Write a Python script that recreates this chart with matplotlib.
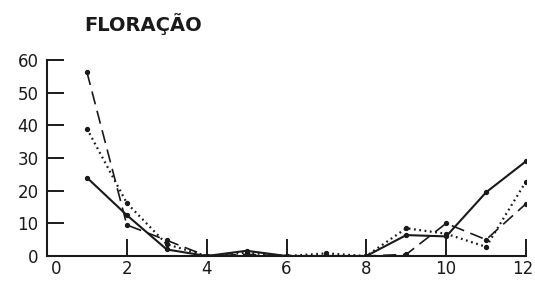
import matplotlib.pyplot as plt
from matplotlib.transforms import ScaledTranslation

# meses 1..12
meses = [1, 2, 3, 4, 5, 6, 7, 8, 9, 10, 11, 12]
serie_continua = [24, 12.5, 2, 0, 1.6, 0, 0, 0, 6.4, 6, 19.5, 29]
serie_tracejada = [56.3, 9.5, 4.8, 0, 0.5, 0, 0, 0, 0.5, 10, 5, 16]
serie_pontilhada = [39, 16.2, 3.6, 0, 1, 0, 0.8, 0, 8.5, 6.8, 2.8, 22.8]

xticks = [0, 2, 4, 6, 8, 10, 12]
yticks = [0, 10, 20, 30, 40, 50, 60]

fig = plt.figure(figsize=(5.35, 2.82), dpi=100)
ax = fig.add_axes([47 / 535, 26 / 282, 479 / 535, 196 / 282])

ax.plot(meses, serie_continua, color="#1a1a1a", lw=1.5, ls="-",
        marker="o", ms=2.8)
ax.plot(meses, serie_tracejada, color="#1a1a1a", lw=1.2, ls=(0, (8, 4)),
        marker="o", ms=2.8)
ax.plot(meses, serie_pontilhada, color="#1a1a1a", lw=1.6, ls=(0, (0.8, 1.6)),
        marker="o", ms=2.8)

ax.set_xlim(0, 12)
ax.set_ylim(0, 60)
ax.set_xticks(xticks)
ax.set_yticks(yticks)
ax.set_xticklabels([str(v) for v in xticks])
ax.set_yticklabels([str(v) for v in yticks])
ax.tick_params(axis="both", direction="in", length=12, width=1.4,
               labelsize=12, color="#1a1a1a", labelcolor="#1a1a1a")
ax.tick_params(axis="x", pad=3)
ax.tick_params(axis="y", pad=6)

# o "0" do eixo x fica deslocado para a direita, o "12" encosta na borda
lbls = ax.get_xticklabels()
lbls[0].set_transform(lbls[0].get_transform() + ScaledTranslation(9 / 100, 0, fig.dpi_scale_trans))
lbls[-1].set_transform(lbls[-1].get_transform() + ScaledTranslation(-3 / 100, 0, fig.dpi_scale_trans))

for s in ["top", "right"]:
    ax.spines[s].set_visible(False)
for s in ["left", "bottom"]:
    ax.spines[s].set_linewidth(1.5)
    ax.spines[s].set_color("#1a1a1a")

fig.text(143 / 535, 1 - 24 / 282, "FLORAÇÃO", ha="center", va="center",
         fontsize=14, fontweight="bold", color="#1a1a1a")

fig.savefig("out.png", dpi=100)
